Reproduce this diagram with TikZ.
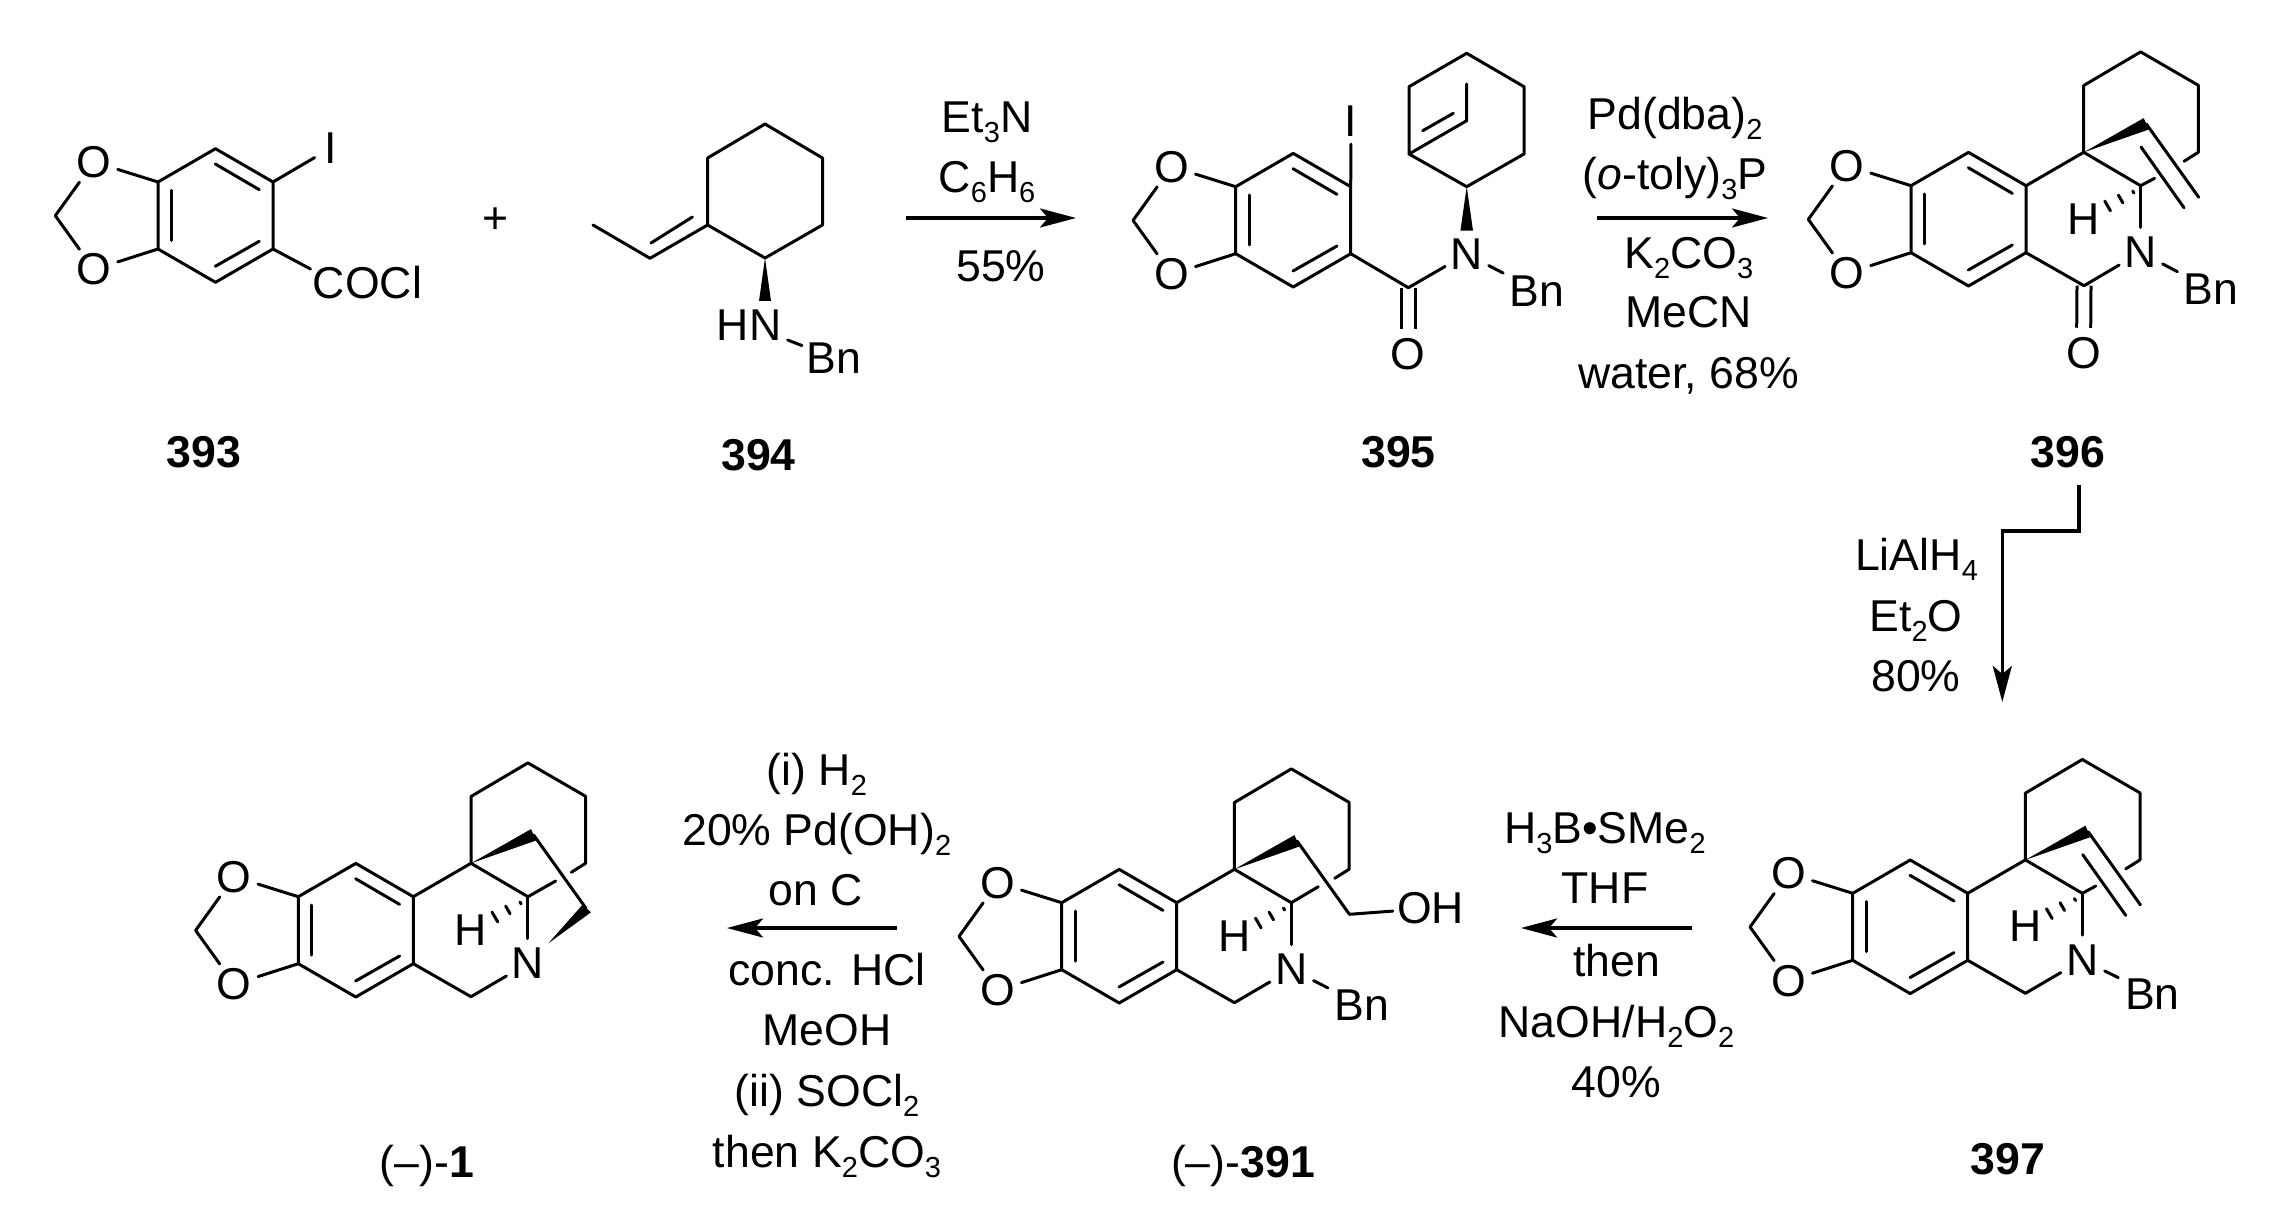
\documentclass[tikz,border=0pt]{standalone}
\usepackage{fontspec}
\setmainfont{Liberation Sans}
\usetikzlibrary{arrows.meta}

\newcommand{\lowsub}[1]{\raisebox{-5pt}{\fontsize{14.5}{14.5}\selectfont #1}}

\tikzset{
  every node/.style = {font=\fontsize{22.3}{26}\selectfont},
  bond/.style = {line width=1.5pt, line cap=round, line join=round},
  twobond/.style = {line width=1.5pt, double, double distance=5.5pt},
  rxnarrow/.style = {line width=1.7pt, -{Stealth[length=18pt, width=9.5pt, inset=4pt]}},
  atom/.style = {circle, minimum size=24.5pt, inner sep=0pt},
  bigatom/.style = {circle, minimum size=37.5pt, inner sep=0pt},
  iodo/.style = {rectangle, minimum width=16pt, minimum height=23pt, inner sep=0pt},
  reagent/.style = {anchor=base, inner sep=0pt},
  molname/.style = {anchor=base, inner sep=0pt}
}

% benzene ring with its dioxole, at the upper left ring carbon
\newcommand{\dioxring}[3]{
  \begin{scope}[shift={(#2,#3)}]
    \coordinate (#1a1) at (0,0);
    \coordinate (#1a2) at (57.5,-33.3);
    \coordinate (#1a3) at (115,0);
    \coordinate (#1a4) at (115,67);
    \coordinate (#1a5) at (57.5,100.3);
    \coordinate (#1a6) at (0,67);
    \coordinate (#1m) at (-102.7,33.7);
    \node[atom] (#1u) at (-64,-20) {O};
    \node[atom] (#1l) at (-64,87.5) {O};
    \draw[bond] (#1a1) -- (#1a2) -- (#1a3) -- (#1a4) -- (#1a5) -- (#1a6) -- cycle;
    \draw[bond] (#1a1) -- (#1u);
    \draw[bond] (#1a6) -- (#1l);
    \draw[bond] (#1u) -- (#1m) -- (#1l);
    \draw[bond] (#1a1)+(13.3,8.3) -- +(13.3,58.3);
    \draw[bond] (#1a1)+(57.3,-18) -- +(101.3,7.7);
    \draw[bond] (#1a1)+(57.3,84.3) -- +(101.3,59.3);
  \end{scope}
}

% the ring system shared by 396, 397, 391 and 1; #4 = end of the broken bond
\newcommand{\corerings}[4]{
  \dioxring{#1}{#2}{#3}
  \begin{scope}[shift={(#2,#3)}]
    \coordinate (#1q) at (172.7,-33.4);
    \coordinate (#1r1) at (172.7,-100.2);
    \coordinate (#1r2) at (229.6,-133.8);
    \coordinate (#1r3) at (287.3,-100.4);
    \coordinate (#1r4) at (287.3,-33.4);
    \coordinate (#1r5) at (273,-24.4);
    \coordinate (#1k) at (229.6,0);
    \coordinate (#1p) at (172.7,100);
    \coordinate (#1g) at (#4);
    \coordinate (#1w) at (235.4,-61.6);
    \coordinate (#1v) at (287.7,11.6);
    \node[atom] (#1n) at (229.6,66.7) {N};
    \node[atom] (#1h) at (172.7,33.3) {H};
    \draw[bond] (#1a3) -- (#1q) -- (#1r1) -- (#1r2) -- (#1r3) -- (#1r4) -- (#1r5);
    \draw[bond] (#1q) -- (#1k) -- (#1g);
    \draw[bond] (#1k) -- (#1n);
    \fill (#1q) -- (232.7,-67.6) -- (237.8,-56.2) -- cycle;
    \draw[bond] (#1k)+(-7.9,5.3) -- +(-6.7,7.3);
    \draw[bond] (#1k)+(-22.25,9.4) -- +(-17.75,17.2);
    \draw[bond] (#1k)+(-35.85,15.4) -- +(-30.15,25.2);
  \end{scope}
}

% exocyclic alkene of 396 and 397
\newcommand{\vinylend}[1]{
  \draw[bond] (#1w) -- (#1v);
  \draw[bond] (#1q)+(57.3,-5.3) -- +(100.3,55.5);
}

\begin{document}
\begin{tikzpicture}[x=0.5pt, y=-0.5pt]
\useasboundingbox (0,0) rectangle (2279,1219);

% 393
\dioxring{a}{158}{182}
\node[iodo] (aiodo) at (331,148) {I};
\node[inner sep=0pt] (acocl) at (367.5,283) {COCl};
\coordinate (alink) at (310.5,269);
\draw[bond] (aa3) -- (aiodo);
\draw[bond] (aa4) -- (alink);
\node[molname] (n393) at (204,467) {\textbf{393}};
\node (plus) at (496,221) {+};

% 394
\coordinate (b1) at (707.6,158);
\coordinate (b2) at (765,124);
\coordinate (b3) at (822.5,158);
\coordinate (b4) at (822.5,225);
\coordinate (b5) at (765,258);
\coordinate (b6) at (707.6,225);
\coordinate (b7) at (650,258.3);
\coordinate (b8) at (593,225);
\node[bigatom, minimum size=41pt] (bhn) at (749,325) {HN};
\node[bigatom, minimum size=34pt] (bbn) at (834,358) {Bn};
\draw[bond] (b1) -- (b2) -- (b3) -- (b4) -- (b5) -- (b6) -- cycle;
\draw[bond] (b6) -- (b7) -- (b8);
\draw[bond] (b6)+(-15.2,-8) -- +(-56.6,18);
\fill (b5) -- +(-6,43) -- +(6,43) -- cycle;
\draw[bond] (bhn) -- (bbn);
\node[molname] (n394) at (758.5,470) {\textbf{394}};

% first arrow
\node[reagent] (c1) at (987,133) {Et\lowsub{3}N};
\node[reagent] (c2) at (987,193) {C\lowsub{6}H\lowsub{6}};
\coordinate (cs) at (905.5,218);
\coordinate (ce) at (1076,218);
\draw[rxnarrow] (cs) -- (ce);
\node[reagent] (c3) at (1001,282) {55\%};

% 395
\dioxring{d}{1235.7}{186.7}
\coordinate (dco) at (1408.3,287.7);
\coordinate (dr1) at (1466.7,186.7);
\coordinate (dr2) at (1409,154);
\coordinate (dr3) at (1409,86.7);
\coordinate (dr4) at (1466.7,53.3);
\coordinate (dr5) at (1524,86.7);
\coordinate (dr6) at (1524,154);
\coordinate (dr7) at (1466.7,120.7);
\coordinate (dr8) at (1466.7,84);
\node[iodo] (diodo) at (1351,120.7) {I};
\node[atom] (do) at (1408.3,354) {O};
\node[atom] (dn) at (1466.7,254) {N};
\node[bigatom] (dbn) at (1536.7,290.7) {Bn};
\draw[twobond] (dco) -- (do);
\draw[bond] (da3) -- (diodo);
\draw[bond] (da4) -- (dco) -- (dn);
\draw[bond] (dn) -- (dbn);
\draw[bond] (dr1) -- (dr2) -- (dr3) -- (dr4) -- (dr5) -- (dr6) -- cycle;
\draw[bond] (dr2) -- (dr7) -- (dr8);
\draw[bond] (dr2)+(13.7,-23.3) -- +(44.3,-40.7);
\fill (dr1) -- +(-6.3,44) -- +(6.3,44) -- cycle;
\node[molname] (n395) at (1398.5,467) {\textbf{395}};

% second arrow
\node[reagent] (e1) at (1675,130) {Pd(dba)\lowsub{2}};
\node[reagent] (e2) at (1675,190) {(\textit{o}-toly)\lowsub{3}P};
\coordinate (es) at (1596.7,218);
\coordinate (ee) at (1768,218);
\draw[rxnarrow] (es) -- (ee);
\node[reagent] (e3) at (1688.7,269) {K\lowsub{2}CO\lowsub{3}};
\node[reagent] (e4) at (1688.7,328) {MeCN};
\node[reagent] (e5) at (1688.7,388) {water, 68\%};

% 396
\corerings{f}{1911}{185.7}{243.6,-7.4}
\coordinate (fco) at (2084,285.7);
\node[atom] (fo) at (2083.5,352.7) {O};
\node[bigatom] (fbn) at (2211,289.3) {Bn};
\draw[twobond] (fco) -- (fo);
\draw[bond] (fa4) -- (fco) -- (fn);
\draw[bond] (fn) -- (fbn);
\vinylend{f}
\node[molname] (n396) at (2068,467) {\textbf{396}};

% bent arrow
\coordinate (gs) at (2079,485);
\coordinate (g1) at (2079,531);
\coordinate (g2) at (2002.3,531);
\coordinate (ge) at (2002.3,702);
\draw[rxnarrow] (gs) -- (g1) -- (g2) -- (ge);
\node[reagent] (g3) at (1916.5,570.7) {LiAlH\lowsub{4}};
\node[reagent] (g4) at (1916,631.7) {Et\lowsub{2}O};
\node[reagent] (g5) at (1916,691.7) {80\%};

% 397
\corerings{h}{1852.7}{893.3}{243,-7.3}
\node[bigatom] (hbn) at (2152.3,994.3) {Bn};
\draw[bond] (ha4) -- (hp) -- (hn);
\draw[bond] (hn) -- (hbn);
\vinylend{h}
\node[molname] (n397) at (2008,1174) {\textbf{397}};

% third arrow
\node[reagent] (i1) at (1605,843) {H\lowsub{3}B\textbullet SMe\lowsub{2}};
\node[reagent] (i2) at (1605,903) {THF};
\coordinate (is) at (1691.7,928);
\coordinate (ie) at (1521,928);
\draw[rxnarrow] (is) -- (ie);
\node[reagent] (i3) at (1616.5,976) {then};
\node[reagent] (i4) at (1616.5,1037) {NaOH/H\lowsub{2}O\lowsub{2}};
\node[reagent] (i5) at (1616.5,1097) {40\%};

% 391
\corerings{j}{1061.7}{902.7}{256.6,-16}
\node[bigatom] (jbn) at (1361.7,1005) {Bn};
\node[bigatom] (joh) at (1430.7,908.3) {OH};
\draw[bond] (ja4) -- (jp) -- (jn);
\draw[bond] (jn) -- (jbn);
\draw[bond] (jw) -- (jv) -- (joh);
\node[molname] (n391) at (1243,1177) {(--)-\textbf{391}};

% fourth arrow
\node[reagent] (l1) at (816.7,785) {(i) H\lowsub{2}};
\node[reagent] (l2) at (816.7,845) {20\% Pd(OH)\lowsub{2}};
\node[reagent] (l3) at (816,905) {on C};
\coordinate (ls) at (896.7,928);
\coordinate (le) at (727,928);
\draw[rxnarrow] (ls) -- (le);
\node[reagent] (l4) at (827,985) {conc. HCl};
\node[reagent] (l5) at (827,1045) {MeOH};
\node[reagent] (l6) at (827,1106) {(ii) SOCl\lowsub{2}};
\node[reagent] (l7) at (827,1167) {then K\lowsub{2}CO\lowsub{3}};

% 1
\corerings{m}{298.3}{896.7}{257.4,-15.7}
\coordinate (mt1) at (582.3,905);
\coordinate (mt2) at (591,912.3);
\coordinate (mt3) at (548.3,943.3);
\draw[bond] (ma4) -- (mp) -- (mn);
\draw[bond] (mw) -- (mv);
\fill (mt3) -- (mt1) -- (mt2) -- cycle;
\node[molname] (n1) at (427,1177) {(--)-\textbf{1}};
\end{tikzpicture}
\end{document}
